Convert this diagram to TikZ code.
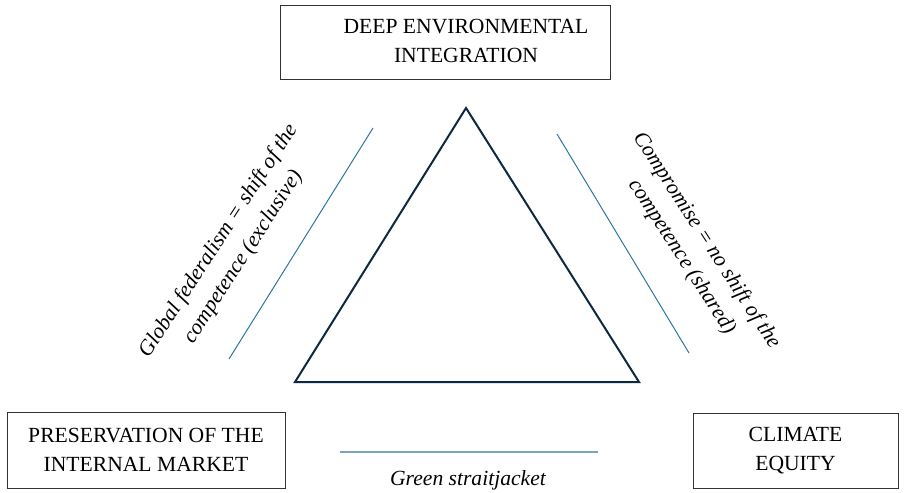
\documentclass[tikz,border=0pt]{standalone}
\usepackage{fontspec}
\setmainfont{Liberation Serif}
\definecolor{navy}{RGB}{14,40,65}
\definecolor{teal}{RGB}{46,117,160}
\definecolor{paleteal}{RGB}{122,165,188}
\begin{document}
\begin{tikzpicture}[x=1bp, y=-1bp,
    box/.style={draw=black!80, line width=0.9bp, inner sep=0pt},
    txt/.style={align=center, font=\fontsize{21.6bp}{29.5bp}\selectfont},
    side/.style={txt, font=\fontsize{21.6bp}{29.5bp}\selectfont\itshape}]
\useasboundingbox (0,0) rectangle (904,493);
% corner boxes
\node[box, minimum width=330bp, minimum height=74bp] (deep) at (445,42) {};
\node[txt] (deeptxt) at (466,41) {DEEP ENVIRONMENTAL\\INTEGRATION};
\node[box, txt, minimum width=278bp, minimum height=76bp] (market) at (146,450) {PRESERVATION OF THE\\INTERNAL MARKET};
\node[box, txt, minimum width=205bp, minimum height=75bp] (equity) at (795.5,450.5) {CLIMATE\\EQUITY};
% triangle
\draw[navy, line width=2bp, line join=miter] (466,108)--(639,382)--(295,382)--cycle;
% side lines and labels
\draw[teal, line width=1bp] (229,359)--(373,128);
\draw[teal, line width=1bp] (557,134)--(689,353);
\draw[paleteal, line width=2bp] (340,452)--(598,452);
\node[side, rotate=57] (federal) at (231,249) {Global federalism = shift of the\\competence (exclusive)};
\node[side, rotate=-57] (compromise) at (694,249) {Compromise = no shift of the\\competence (shared)};
\node[side] (jacket) at (468,480) {Green straitjacket};
\end{tikzpicture}
\end{document}
